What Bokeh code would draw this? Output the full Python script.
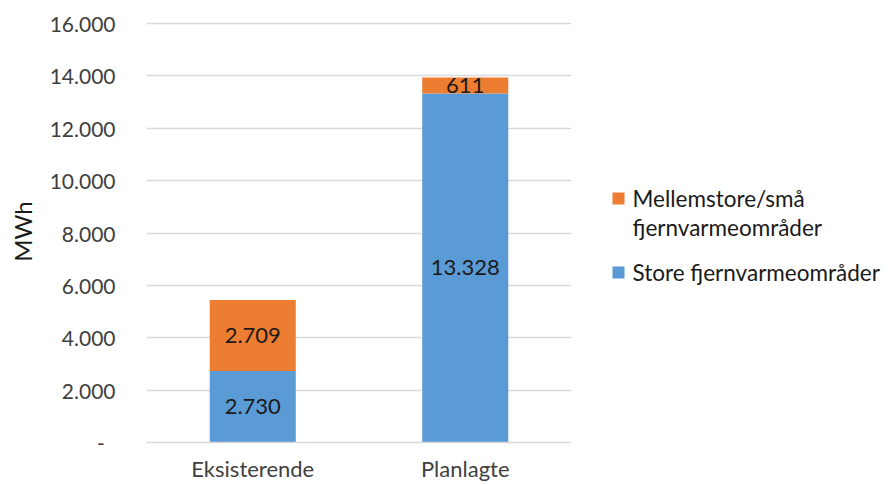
from bokeh.plotting import figure
from bokeh.layouts import row
from bokeh.models import (ColumnDataSource, FixedTicker, CustomJSTickFormatter, Range1d)
from bokeh.core.properties import value
from bokeh.embed import file_html
from bokeh.resources import INLINE

categories = ["Eksisterende", "Planlagte"]
store = [2730, 13328]
mellem = [2709, 611]
series_names = ["Store fjernvarmeområder", "Mellemstore/små\nfjernvarmeområder"]
y_ticks = [0, 2000, 4000, 6000, 8000, 10000, 12000, 14000, 16000]

BLUE = "#5B9BD5"
ORANGE = "#ED7D31"
FONT = "Lato"
TXT = "#404040"

def fmt(v):
    return f"{v:,}".replace(",", ".")

src = ColumnDataSource(dict(
    cat=categories,
    store=store,
    mellem=mellem,
    store_mid=[s / 2 for s in store],
    mellem_mid=[s + m / 2 for s, m in zip(store, mellem)],
    store_lbl=[fmt(v) for v in store],
    mellem_lbl=[fmt(v) for v in mellem],
))

p = figure(x_range=categories, y_range=Range1d(0, 16115), width=571, height=484,
           output_backend="svg", toolbar_location=None,
           min_border_left=146, min_border_right=0, min_border_top=20,
           min_border_bottom=42)

r1 = p.vbar_stack(["store", "mellem"], x="cat", width=0.405, source=src,
                  color=[BLUE, ORANGE], line_color=None)

for ycol, tcol in (("store_mid", "store_lbl"), ("mellem_mid", "mellem_lbl")):
    p.text(x="cat", y=ycol, text=tcol, source=src, text_align="center",
           text_baseline="middle", text_font=value(FONT), text_font_size="22px",
           text_color="#1a1a1a")

p.yaxis.ticker = FixedTicker(ticks=y_ticks)
p.yaxis.formatter = CustomJSTickFormatter(code="""
    if (tick == 0) { return '-  '; }
    return tick.toFixed(0).replace(/\\B(?=(\\d{3})+(?!\\d))/g, '.');
""")
p.yaxis.axis_line_color = None
p.yaxis.major_tick_line_color = None
p.yaxis.minor_tick_line_color = None
p.yaxis.major_label_standoff = 25
p.yaxis.major_label_text_font = FONT
p.yaxis.major_label_text_font_size = "21px"
p.yaxis.major_label_text_color = TXT
p.yaxis.axis_label = "MWh"
p.yaxis.axis_label_text_font = FONT
p.yaxis.axis_label_text_font_size = "24px"
p.yaxis.axis_label_text_font_style = "normal"
p.yaxis.axis_label_text_color = "#1a1a1a"
p.yaxis.axis_label_standoff = 10

p.xaxis.axis_line_color = "#D9D9D9"
p.xaxis.axis_line_width = 1.5
p.xaxis.major_tick_line_color = None
p.xaxis.minor_tick_line_color = None
p.xaxis.major_label_standoff = 6
p.xaxis.major_label_text_font = FONT
p.xaxis.major_label_text_font_size = "22px"
p.xaxis.major_label_text_color = TXT

p.xgrid.grid_line_color = None
p.ygrid.grid_line_color = "#D9D9D9"
p.ygrid.grid_line_width = 1.5
p.outline_line_color = None

# Legend drawn in a side figure; its frame aligns with the main frame (y 20..442)
leg = figure(width=319, height=484, x_range=Range1d(571, 890), y_range=Range1d(442, 20),
             output_backend="svg", toolbar_location=None,
             min_border=0, outline_line_color=None)
leg.axis.visible = False
leg.grid.visible = False

leg_colors = [ORANGE, BLUE]
leg_labels = [series_names[1], series_names[0]]
sq_y = [198, 272]
leg.scatter(x=[618, 618], y=sq_y, marker="square", size=12, color=leg_colors,
            line_color=None)
tx, ty, tt = [], [], []
for lbl, y0 in zip(leg_labels, sq_y):
    for i, line in enumerate(lbl.split("\n")):
        tx.append(632)
        ty.append(y0 + i * 29)
        tt.append(line)
leg.text(x=tx, y=ty, text=tt, text_align="left", text_baseline="middle",
         text_font=value(FONT), text_font_size="22.5px", text_color="#1a1a1a")

layout = row(p, leg, spacing=0)
open("out.html", "w").write(file_html(layout, INLINE))
